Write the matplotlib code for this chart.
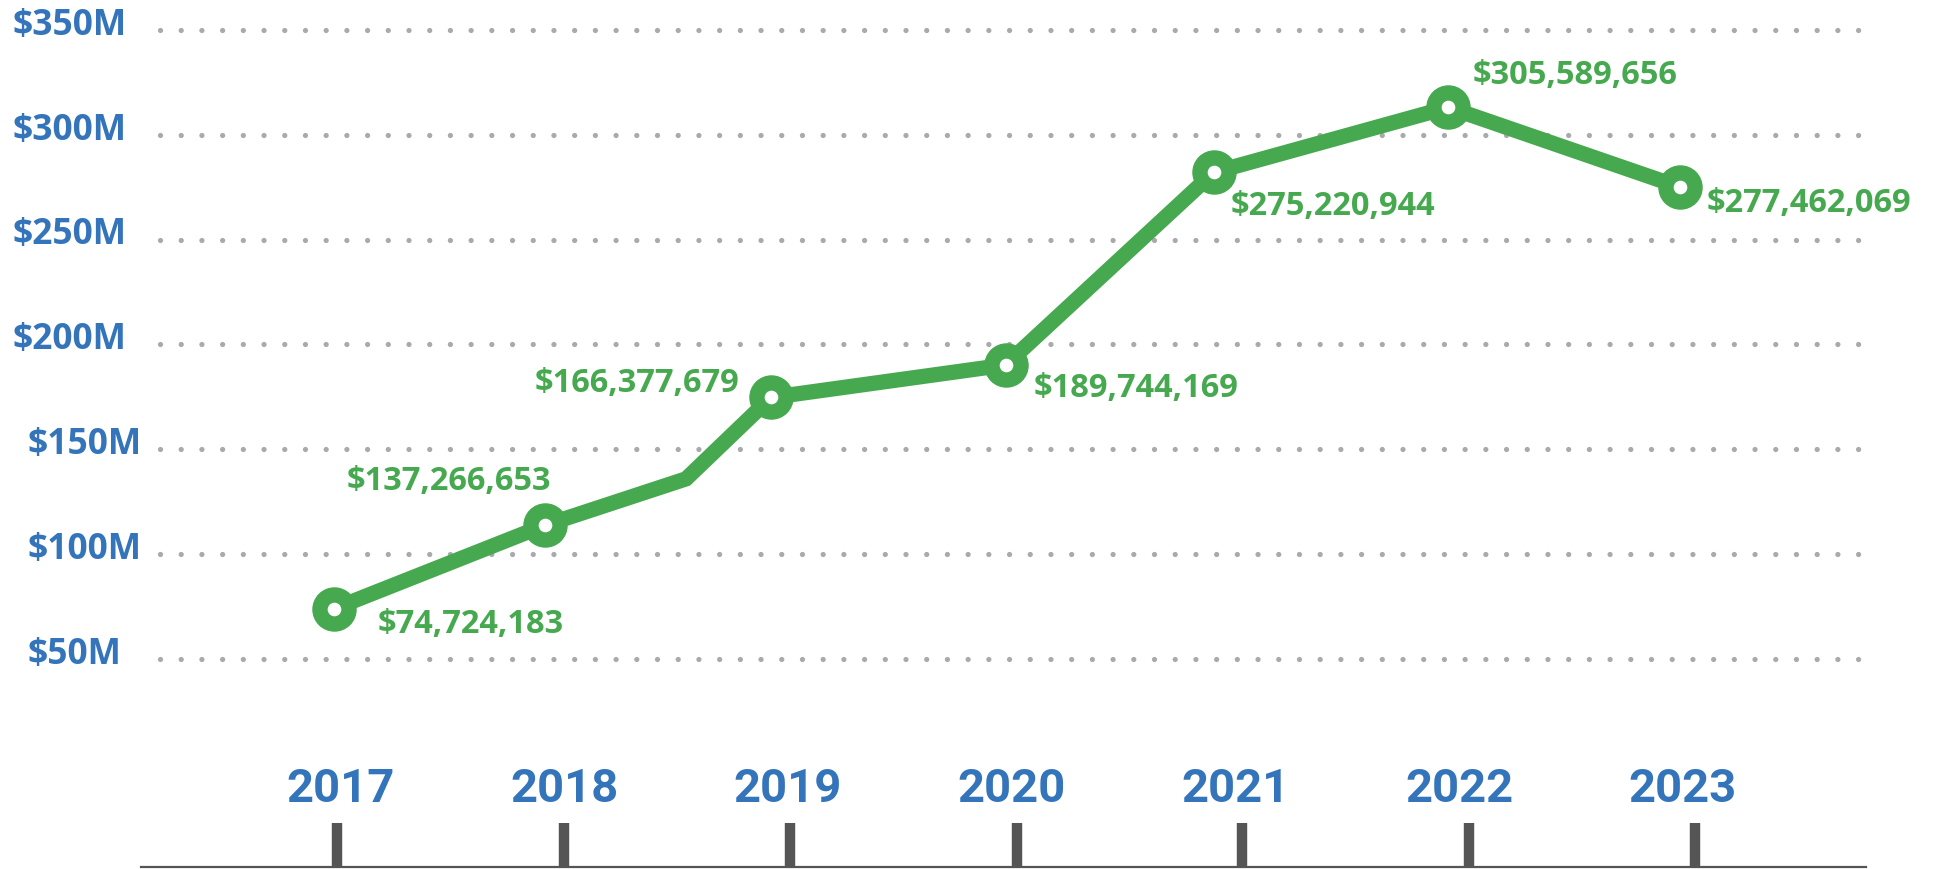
import numpy as np
import matplotlib.pyplot as plt

plt.rcParams['lines.scale_dashes'] = False

# data
years = [2017, 2018, 2019, 2020, 2021, 2022, 2023]
# plotted positions of the line (x in years, y in $M), including the kink between 2018 and 2019
line_x = [2016.97, 2017.915, 2018.545, 2018.924, 2019.973, 2020.904, 2021.953, 2022.99]
line_y = [73.9, 113.8, 135.9, 174.7, 190.2, 282.1, 313.1, 275.0]
marker_x = [2016.97, 2017.915, 2018.924, 2019.973, 2020.904, 2021.953, 2022.99]
marker_y = [73.9, 113.8, 174.7, 190.2, 282.1, 313.1, 275.0]
value_labels = ['$74,724,183', '$137,266,653', '$166,377,679', '$189,744,169',
                '$275,220,944', '$305,589,656', '$277,462,069']
grid_vals = [350, 300, 250, 200, 150, 100, 50]
grid_labels = ['$350M', '$300M', '$250M', '$200M', '$150M', '$100M', '$50M']
tick_x = [2016.983, 2017.998, 2019.008, 2020.023, 2021.032, 2022.047, 2023.057]

blue = '#3474BA'
green = '#46A94F'

fig = plt.figure(figsize=(19.56, 8.69), dpi=100)
ax = fig.add_axes([0, 0, 1, 1])
ax.set_xlim(2015.478, 2024.222)
ax.set_ylim(-50.2, 364.3)
ax.axis('off')

# dotted grid
for v in grid_vals:
    ax.plot([2016.193, 2023.86], [v, v], color='#AAAAAE', lw=3.8,
            dashes=(0.01, 14.9), dash_capstyle='round', zorder=1)

for v, lab in zip(grid_vals, grid_labels):
    xpos = 13 / 1956 if v >= 200 else 28 / 1956
    ax.text(xpos, v + 2, lab, transform=ax.get_yaxis_transform(), ha='left', va='center',
            fontsize=25.5, fontweight='bold', color=blue, family=['Open Sans', 'DejaVu Sans'])

# line + ring markers
ax.plot(line_x, line_y, color=green, lw=11, solid_joinstyle='miter', zorder=3)
ax.plot(marker_x, marker_y, 'o', color=green, ms=31, zorder=4)
ax.plot(marker_x, marker_y, 'o', color='white', ms=8.8, zorder=5)

offsets = [(44, -16, 'left'), (6, 44, 'right'), (-31, 14, 'right'), (28, -23, 'left'),
           (17, -34, 'left'), (24, 32, 'left'), (26, -16, 'left')]
for x, y, lab, (dx, dy, ha) in zip(marker_x, marker_y, value_labels, offsets):
    ax.annotate(lab, (x, y), xytext=(dx, dy), textcoords='offset pixels', ha=ha, va='center',
                fontsize=23.5, fontweight='bold', color=green,
                family=['Open Sans', 'DejaVu Sans'], zorder=6)

# bottom axis: baseline, ticks, year labels
ax.plot([2016.11, 2023.82], [-49.2, -49.2], color='#555555', lw=1.6, zorder=2)
ax.vlines(tick_x, -49.2, -28.2, color='#555555', lw=7.5, zorder=2)
for yr in years:
    ax.text(yr, -12, str(yr), ha='center', va='center', fontsize=34, fontweight='bold',
            color=blue, family=['Roboto', 'DejaVu Sans'])

fig.savefig('out.png', dpi=100)
